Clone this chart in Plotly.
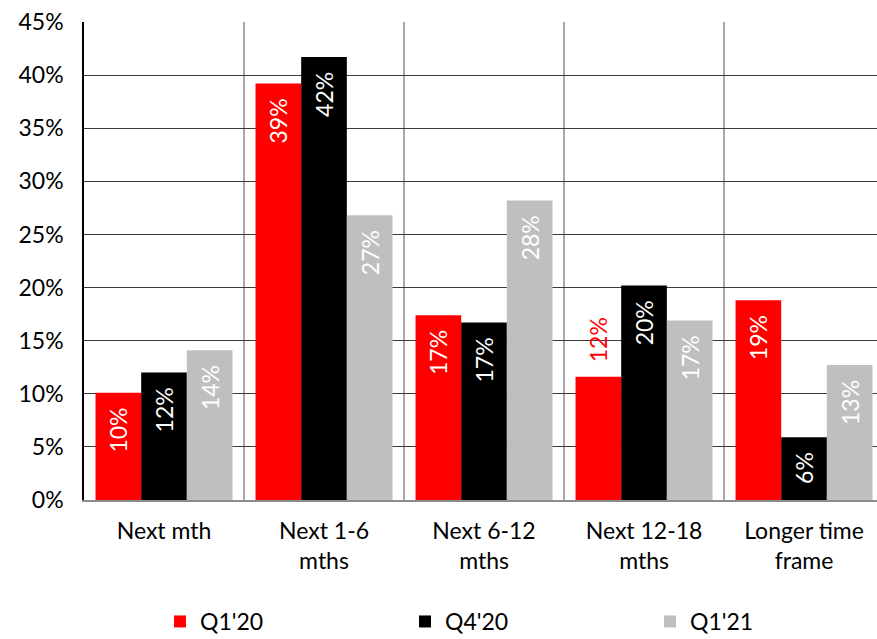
import plotly.graph_objects as go

categories = ["Next mth", "Next 1-6<br>mths", "Next 6-12<br>mths", "Next 12-18<br>mths", "Longer time<br>frame"]
series_names = ["Q1'20", "Q4'20", "Q1'21"]
q1_20 = [10.1, 39.2, 17.4, 11.6, 18.8]
q4_20 = [12.0, 41.7, 16.7, 20.2, 5.9]
q1_21 = [14.1, 26.8, 28.2, 16.9, 12.7]
colors = ["#ff0000", "#000000", "#bfbfbf"]
y_ticks = [0, 5, 10, 15, 20, 25, 30, 35, 40, 45]
y_tick_text = [f"{t}%" for t in y_ticks]
# the one label that sits above its bar instead of inside it
outside_labels = {("Q1'20", "Next 12-18<br>mths")}

FONT = "Lato"
x_idx = list(range(len(categories)))

fig = go.Figure()
for name, vals, col in zip(series_names, [q1_20, q4_20, q1_21], colors):
    positions, label_colors, texts = [], [], []
    for cat, v in zip(categories, vals):
        if (name, cat) in outside_labels:
            positions.append("outside")
            label_colors.append(col)
            texts.append(f"\u2002{round(v):.0f}%")
        else:
            positions.append("inside")
            label_colors.append("#ffffff")
            texts.append(f"{round(v):.0f}%  ")
    fig.add_trace(go.Bar(
        name=name,
        x=x_idx,
        y=vals,
        marker=dict(color=col, line=dict(width=0)),
        text=texts,
        textposition=positions,
        insidetextanchor="end",
        textangle=-90,
        textfont=dict(family=FONT, size=23, color=label_colors),
        constraintext="none",
        cliponaxis=False,
    ))

# vertical separators between category groups
shapes = []
for i in range(len(categories) - 1):
    shapes.append(dict(type="line", xref="x", yref="paper", x0=i + 0.5, x1=i + 0.5, y0=0, y1=1,
                       line=dict(color="#6e6e6e", width=1.2), layer="below"))

fig.update_layout(
    width=877, height=639,
    margin=dict(l=84, r=0, t=22, b=139),
    paper_bgcolor="white", plot_bgcolor="white",
    barmode="group", bargap=0.144, bargroupgap=0,
    font=dict(family=FONT, size=23, color="#000000"),
    shapes=shapes,
    showlegend=True,
    legend=dict(orientation="h", xref="container", yref="container",
                x=160 / 877, y=1 - 600 / 639, xanchor="left", yanchor="top",
                entrywidth=200, entrywidthmode="pixels",
                font=dict(family=FONT, size=23, color="#000000"),
                itemsizing="constant", bgcolor="rgba(0,0,0,0)",
                tracegroupgap=0),
    xaxis=dict(tickmode="array", tickvals=x_idx, ticktext=categories,
               range=[-0.5, 4.456], showgrid=False, zeroline=False,
               showline=True, linecolor="#8c8c8c", linewidth=1.5,
               ticks="", ticklabelstandoff=10,
               tickfont=dict(family=FONT, size=23, color="#000000"),
               fixedrange=True),
    yaxis=dict(range=[0, 45], tickmode="array", tickvals=y_ticks, ticktext=y_tick_text,
               showgrid=True, gridcolor="#3a3a3a", gridwidth=1,
               zeroline=False, showline=True, linecolor="#000000", linewidth=1.5,
               ticks="", ticklabelstandoff=14,
               tickfont=dict(family=FONT, size=23, color="#000000"),
               fixedrange=True),
)

fig.write_html("out.html")
